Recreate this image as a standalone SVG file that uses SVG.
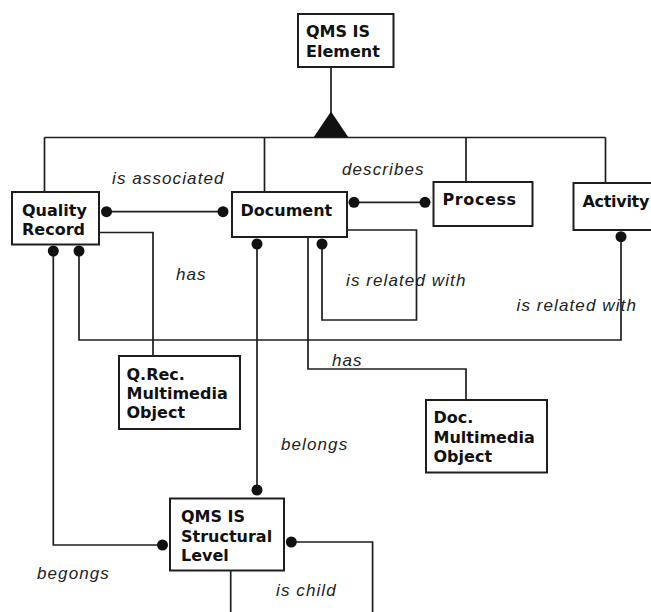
<svg xmlns="http://www.w3.org/2000/svg" width="651" height="612" viewBox="0 0 651 612">
  <style>
    .box { fill: #ffffff; stroke: #1e1e1e; stroke-width: 2; }
    .name { font-family: "DejaVu Sans", "Liberation Sans", Arial, sans-serif; font-size: 16px; font-weight: bold; fill: #111111; }
    .role { font-family: "Liberation Sans", Arial, sans-serif; font-size: 17px; font-style: italic; letter-spacing: 1.1px; fill: #222222; }
    .wire { fill: none; stroke: #1e1e1e; stroke-width: 1.7; }
    .dot { fill: #111111; }
  </style>
  <rect width="651" height="612" fill="#ffffff"/>

  <!-- connectors -->
  <g id="connectors">
    <!-- generalisation tree -->
    <path class="wire" d="M331 67 V114"/>
    <polygon points="331,111.5 313.5,137.5 348.5,137.5" fill="#111111"/>
    <path class="wire" d="M44.5 137.5 H605.5 M44.5 137.5 V192 M264.5 137.5 V192 M466 137.5 V182 M605.5 137.5 V183"/>

    <!-- associations -->
    <path class="wire" d="M106.5 211.7 H223"/>
    <path class="wire" d="M354 202.3 H425"/>
    <path class="wire" d="M99 232.5 H153 V356"/>
    <path class="wire" d="M347 230 H416.5 V320 H322 V244"/>
    <path class="wire" d="M308 237 V369 H466 V400"/>
    <path class="wire" d="M257 244 V490"/>
    <path class="wire" d="M79 251 V340 H621 V236.7"/>
    <path class="wire" d="M53.3 251 V545 H162.5"/>
    <path class="wire" d="M291.3 542 H372.6 V614"/>
    <path class="wire" d="M230.7 570 V614"/>

    <!-- association ends -->
    <circle class="dot" cx="106.5" cy="211.7" r="5.5"/>
    <circle class="dot" cx="223" cy="211.7" r="5.5"/>
    <circle class="dot" cx="354" cy="202.3" r="5.5"/>
    <circle class="dot" cx="425" cy="202.3" r="5.5"/>
    <circle class="dot" cx="53.3" cy="251" r="5.5"/>
    <circle class="dot" cx="79" cy="251" r="5.5"/>
    <circle class="dot" cx="257" cy="244" r="5.5"/>
    <circle class="dot" cx="322" cy="244" r="5.5"/>
    <circle class="dot" cx="621" cy="236.7" r="5.5"/>
    <circle class="dot" cx="257" cy="490" r="5.5"/>
    <circle class="dot" cx="162.5" cy="545" r="5.5"/>
    <circle class="dot" cx="291.3" cy="542" r="5.5"/>

    <!-- role labels -->
    <text class="role" x="112" y="183.5">is associated</text>
    <text class="role" x="342" y="174.5">describes</text>
    <text class="role" x="176" y="280">has</text>
    <text class="role" x="346" y="286">is related with</text>
    <text class="role" x="516.5" y="310.5">is related with</text>
    <text class="role" x="332" y="365.5">has</text>
    <text class="role" x="281" y="450">belongs</text>
    <text class="role" x="37" y="578.5">begongs</text>
    <text class="role" x="276" y="596">is child</text>
  </g>

  <!-- nodes -->
  <g id="qms-is-element">
    <rect class="box" x="298" y="14" width="95.5" height="53"/>
    <text class="name" x="306" y="37.3">QMS IS</text>
    <text class="name" x="306" y="57.3">Element</text>
  </g>
  <g id="quality-record">
    <rect class="box" x="12" y="192" width="87" height="52.5"/>
    <text class="name" x="22" y="216">Quality</text>
    <text class="name" x="22" y="235">Record</text>
  </g>
  <g id="document">
    <rect class="box" x="232" y="192" width="115" height="45"/>
    <text class="name" x="240.5" y="215.7">Document</text>
  </g>
  <g id="process">
    <rect class="box" x="433.5" y="182" width="99" height="44"/>
    <text class="name" x="442.5" y="205" letter-spacing="0.6">Process</text>
  </g>
  <g id="activity">
    <rect class="box" x="573.5" y="183" width="90" height="47"/>
    <text class="name" x="582.5" y="207.3" letter-spacing="-0.3">Activity</text>
  </g>
  <g id="qrec-multimedia-object">
    <rect class="box" x="119" y="356" width="121" height="73"/>
    <text class="name" x="126.5" y="380">Q.Rec.</text>
    <text class="name" x="126.5" y="399.3">Multimedia</text>
    <text class="name" x="126.5" y="418.3">Object</text>
  </g>
  <g id="doc-multimedia-object">
    <rect class="box" x="426" y="400" width="121" height="72.5"/>
    <text class="name" x="433.5" y="423.3">Doc.</text>
    <text class="name" x="433.5" y="443.3">Multimedia</text>
    <text class="name" x="433.5" y="462.3">Object</text>
  </g>
  <g id="qms-is-structural-level">
    <rect class="box" x="170" y="498.5" width="114" height="72"/>
    <text class="name" x="181" y="521.7">QMS IS</text>
    <text class="name" x="181" y="541.7">Structural</text>
    <text class="name" x="181" y="561">Level</text>
  </g>
</svg>
